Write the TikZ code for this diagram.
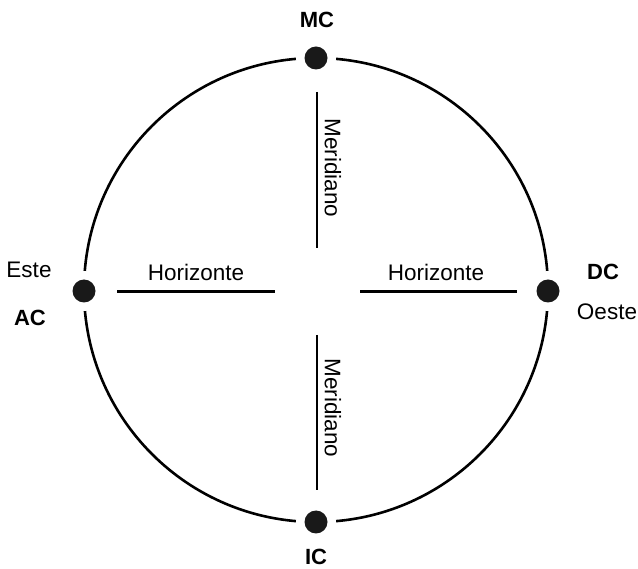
\documentclass[tikz,border=0pt]{standalone}
\usepackage{fontspec}
\setmainfont{Liberation Sans}
\begin{document}
\begin{tikzpicture}[x=1pt,y=-1pt,
  lbl/.style={font=\fontsize{22.5}{26}\selectfont, inner sep=0pt},
  blbl/.style={font=\fontsize{22}{26}\selectfont\bfseries, inner sep=0pt},
  dotgap/.style={circle, fill=white, minimum size=40pt, inner sep=0pt},
  dotnode/.style={circle, fill=black!90, minimum size=23pt, inner sep=0pt},
  ln/.style={line width=2.6pt}]
\useasboundingbox (0,0) rectangle (638,569);
\coordinate (O) at (316,290);
\draw[line width=2.6pt] (O) circle[radius=232];
% gaps and dots
\node[dotgap] at (316,58) {};
\node[dotgap] at (316,522) {};
\node[dotgap] at (84,291) {};
\node[dotgap] at (548,291) {};
\node[dotnode] (mc) at (316,58) {};
\node[dotnode] (ic) at (316,522) {};
\node[dotnode] (ac) at (84,291) {};
\node[dotnode] (dc) at (548,291) {};
% lines
\coordinate (m1a) at (317,92); \coordinate (m1b) at (317,248);
\coordinate (m2a) at (317,335); \coordinate (m2b) at (317,490);
\coordinate (h1a) at (117,291.5); \coordinate (h1b) at (275,291.5);
\coordinate (h2a) at (360,291.5); \coordinate (h2b) at (517,291.5);
\draw[ln] (m1a) -- (m1b);
\draw[ln] (m2a) -- (m2b);
\draw[ln] (h1a) -- (h1b);
\draw[ln] (h2a) -- (h2b);
% labels
\node[lbl, rotate=-90] (mer1) at (333,168) {Meridiano};
\node[lbl, rotate=-90] (mer2) at (333,408) {Meridiano};
\node[lbl] (hor1) at (196,272) {Horizonte};
\node[lbl] (hor2) at (436,272) {Horizonte};
\node[blbl] (mct) at (317,20) {MC};
\node[blbl] (ict) at (316,557) {IC};
\node[blbl] (act) at (30,318) {AC};
\node[lbl] (este) at (29,270) {Este};
\node[blbl] (dct) at (603,272) {DC};
\node[lbl] (oeste) at (607,312) {Oeste};
\end{tikzpicture}
\end{document}
